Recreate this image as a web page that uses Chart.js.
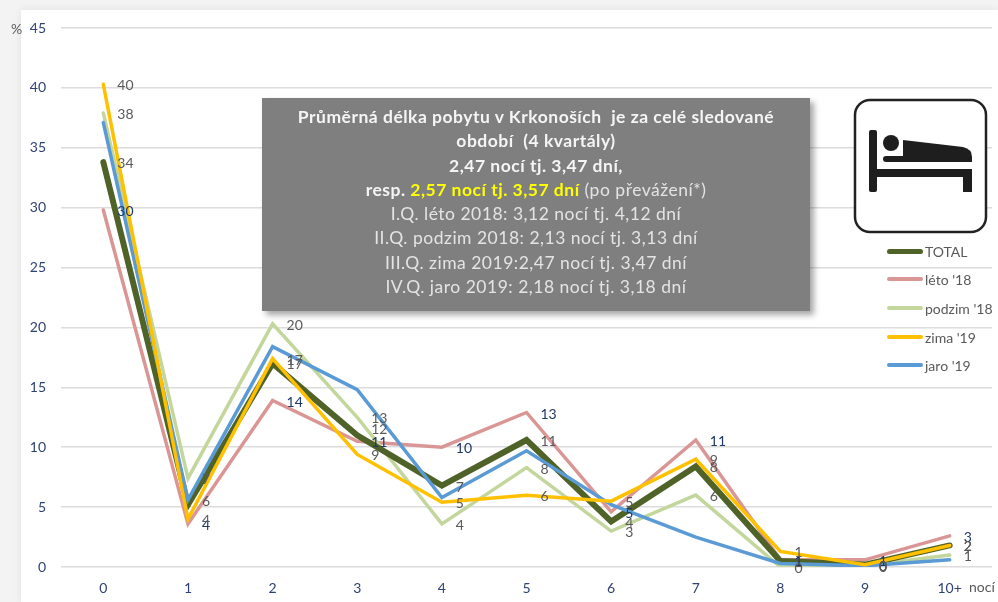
<!DOCTYPE html>
<html lang="cs">
<head>
<meta charset="utf-8">
<title>Průměrná délka pobytu</title>
<script src="https://cdn.jsdelivr.net/npm/chart.js@4"></script>
<style>
  html, body { margin: 0; padding: 0; background: #f3f3f3; }
  #wrap { position: relative; width: 998px; height: 602px; overflow: hidden; font-family: Lato, sans-serif; }
  #panel { position: absolute; left: 21px; top: 10px; right: 0; bottom: 0; background: #fff; box-shadow: 0 0 8px rgba(0,0,0,.08); }
  canvas { position: absolute; left: 0; top: 0; }
  #box { position: absolute; left: 262px; top: 98px; width: 548px; height: 213px; background: #7f7f7f; box-shadow: 4px 4px 6px rgba(0,0,0,.35);
    color: #e4e4e4; text-align: center; font-size: 17.5px; letter-spacing: .5px; line-height: 24.3px; padding-top: 7px; box-sizing: border-box; white-space: nowrap; }
  #box b { color: #f5f5f5; }
  #box .hl { color: #ffff00; }
  #icon { position: absolute; left: 850px; top: 95px; }
  #legend { position: absolute; left: 887px; top: 0; font-size: 14px; color: #595959; }
  #legend div { position: absolute; white-space: nowrap; display: flex; align-items: center; left: 0; }
  #legend i { display: inline-block; width: 36px; border-radius: 3px; margin-right: 2px; }
  .unit { position: absolute; font-size: 14px; color: #595959; }
</style>
</head>
<body>
<div id="wrap">
  <div id="panel"></div>
  <canvas id="c" width="998" height="602"></canvas>
  <div id="box">
    <b>Průměrná délka pobytu v Krkonoších&nbsp; je za celé sledované<br>období&nbsp; (4 kvartály)<br>2,47 nocí tj. 3,47 dní,<br>resp. <span class="hl">2,57 nocí tj. 3,57 dní</span></b> (po převážení*)<br>
    I.Q. léto 2018: 3,12 nocí tj. 4,12 dní<br>II.Q. podzim 2018: 2,13 nocí tj. 3,13 dní<br>III.Q. zima 2019:2,47 nocí tj. 3,47 dní<br>IV.Q. jaro 2019: 2,18 nocí tj. 3,18 dní
  </div>
  <svg id="icon" width="142" height="142" viewBox="0 0 142 142">
    <rect x="5" y="5" width="131" height="132" rx="15" fill="#fff" stroke="#222" stroke-width="2.5"/>
    <g fill="#1e1e1e">
      <rect x="19" y="35" width="8" height="62" rx="2"/>
      <rect x="27" y="74" width="95" height="8"/>
      <rect x="113" y="74" width="9" height="23"/>
      <circle cx="41" cy="48" r="8"/>
      <path d="M53 45 L113 52 Q122 54 122 62 L122 67 L53 67 Z"/>
      <rect x="33" y="61" width="24" height="6" rx="3"/>
    </g>
  </svg>
  <div id="legend"></div>
  <div class="unit" style="left:11px;top:20px">%</div>
  <div class="unit" style="left:969px;top:578px">nocí</div>
</div>
<script>
const categories = ["0", "1", "2", "3", "4", "5", "6", "7", "8", "9", "10+"];
const yTicks = [0, 5, 10, 15, 20, 25, 30, 35, 40, 45];

const total  = [33.8, 5.2, 17.0, 11.0, 6.8, 10.6, 3.8, 8.4, 0.5, 0.2, 1.8];
const leto   = [29.8, 3.6, 13.9, 10.5, 10.0, 12.9, 4.6, 10.6, 0.6, 0.6, 2.6];
const podzim = [37.9, 7.4, 20.3, 12.5, 3.6, 8.3, 3.0, 6.0, 0.0, 0.1, 1.0];
const zima   = [40.3, 4.0, 17.4, 9.4, 5.4, 6.0, 5.5, 9.0, 1.3, 0.2, 1.8];
const jaro   = [37.1, 5.6, 18.4, 14.8, 5.8, 9.7, 5.2, 2.5, 0.3, 0.1, 0.6];

const totalLabels  = [34, 6, 17, 12, 7, 11, 4, 8, 1, 0, 2];
const letoLabels   = [30, 4, 14, 11, 10, 13, 5, 11, 1, 1, 3];
const podzimLabels = [38, 7, 20, 13, 4, 8, 3, 6, 0, 0, 1];
const zimaLabels   = [40, 4, 17, 9, 5, 6, 5, 9, 1, 0, 2];
// popisky TOTAL sedí v originále na 1 a 3 trochu výš než čára
const totalLabelAt = [33.8, 5.6, 17.0, 11.6, 6.8, 10.6, 3.8, 8.4, 0.5, 0.2, 1.8];

const GREY = "#595959", NAVY = "#1f3864", TICK = "#2e4374";
// jaro '19 v originále popisky nemá
const series = [
  { label: "TOTAL",      data: total,  labels: totalLabels,  at: totalLabelAt, color: "#4f6228", width: 6, order: 3, text: GREY },
  { label: "léto '18",   data: leto,   labels: letoLabels,   color: "#d99694", width: 3.5, order: 5, text: NAVY },
  { label: "podzim '18", data: podzim, labels: podzimLabels, color: "#c3d69b", width: 3.5, order: 4, text: GREY },
  { label: "zima '19",   data: zima,   labels: zimaLabels,   color: "#ffc000", width: 3.5, order: 1, text: GREY },
  { label: "jaro '19",   data: jaro,   labels: null,         color: "#5b9bd5", width: 3.5, order: 2, text: GREY },
];

// popisky hodnot vpravo od bodu
const valueLabels = {
  id: "valueLabels",
  afterDatasetsDraw(chart) {
    const { ctx, scales: { x, y } } = chart;
    ctx.save();
    ctx.font = "14px Lato";
    ctx.textAlign = "left";
    ctx.textBaseline = "middle";
    series.forEach(s => {
      if (!s.labels) return;
      const at = s.at || s.data;
      ctx.fillStyle = s.text;
      s.labels.forEach((v, i) => {
        ctx.fillText(v, x.getPixelForValue(i) + 14, y.getPixelForValue(at[i]) + 1.5);
      });
    });
    ctx.restore();
  },
};

new Chart(document.getElementById("c").getContext("2d"), {
  type: "line",
  data: {
    labels: categories,
    datasets: series.map(s => ({
      label: s.label, data: s.data, borderColor: s.color, borderWidth: s.width, order: s.order,
      tension: 0, pointRadius: 0, borderCapStyle: "round", borderJoinStyle: "miter",
    })),
  },
  options: {
    responsive: false,
    animation: false,
    layout: { padding: { top: 28, right: 6, left: 0, bottom: 0 } },
    plugins: { legend: { display: false }, tooltip: { enabled: false } },
    scales: {
      x: {
        offset: true,
        grid: { display: false },
        border: { display: false },
        ticks: { color: TICK, font: { family: "Lato", size: 14 }, padding: 5, maxRotation: 0 },
        afterFit(s) { s.height = 35; },
      },
      y: {
        min: 0, max: 45,
        afterBuildTicks(s) { s.ticks = yTicks.map(v => ({ value: v })); },
        grid: { color: "#dcdcdc", lineWidth: 1.5, drawTicks: false },
        border: { display: false },
        ticks: { color: TICK, font: { family: "Lato", size: 14 }, padding: 15 },
        afterFit(s) { s.width = 61; },
      },
    },
  },
  plugins: [valueLabels],
});

const legendY = [251, 279, 308, 337, 365];
const legendEl = document.getElementById("legend");
series.forEach((s, i) => {
  const row = document.createElement("div");
  row.style.top = (legendY[i] - 9) + "px";
  row.style.height = "18px";
  row.innerHTML = `<i style="height:${Math.min(s.width, 5)}px;background:${s.color}"></i>${s.label}`;
  legendEl.appendChild(row);
});
</script>
</body>
</html>
